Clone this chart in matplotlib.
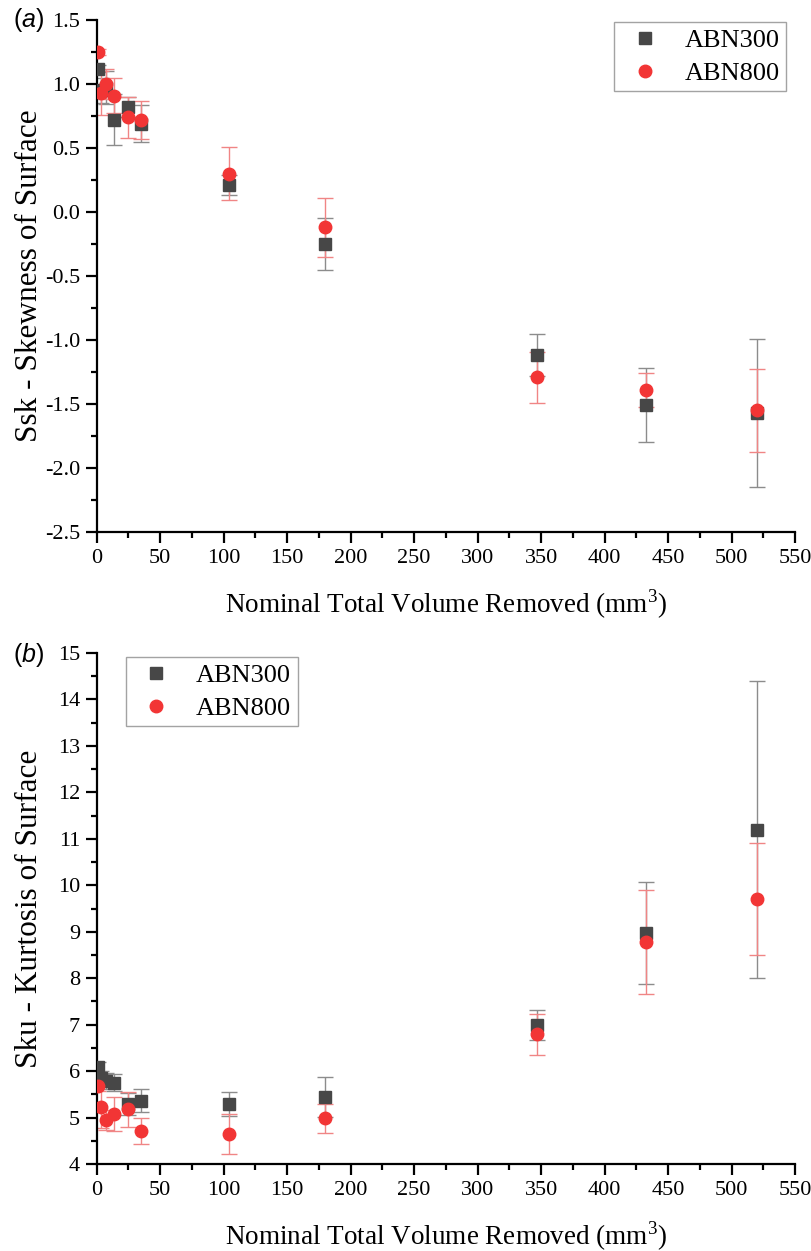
import matplotlib
matplotlib.use("Agg")
import matplotlib.pyplot as plt
from matplotlib.ticker import MultipleLocator, FormatStrFormatter

plt.rcParams['font.family'] = ['Liberation Serif', 'DejaVu Serif']
plt.rcParams['axes.unicode_minus'] = False
plt.rcParams['mathtext.fontset'] = 'custom'
plt.rcParams['mathtext.rm'] = 'Liberation Sans'
plt.rcParams['mathtext.it'] = 'Liberation Sans:italic'

# Data
volume = [0.7, 3.5, 7, 14, 24.5, 34.7, 104, 180, 347, 433, 520]

ssk_300 = [1.12, 0.95, 0.97, 0.72, 0.82, 0.69, 0.21, -0.25, -1.12, -1.51, -1.57]
ssk_300_err = [0.03, 0.10, 0.13, 0.20, 0.08, 0.145, 0.08, 0.20, 0.165, 0.29, 0.575]
ssk_800 = [1.25, 0.93, 1.00, 0.91, 0.74, 0.72, 0.30, -0.12, -1.29, -1.39, -1.55]
ssk_800_err = [0.02, 0.17, 0.12, 0.14, 0.16, 0.15, 0.21, 0.23, 0.20, 0.135, 0.325]

sku_300 = [6.09, 5.85, 5.79, 5.75, 5.29, 5.36, 5.29, 5.44, 6.99, 8.97, 11.2]
sku_300_err = [0.10, 0.15, 0.17, 0.18, 0.23, 0.25, 0.26, 0.43, 0.33, 1.10, 3.2]
sku_800 = [5.68, 5.23, 4.95, 5.08, 5.18, 4.72, 4.65, 4.98, 6.79, 8.77, 9.70]
sku_800_err = [0.10, 0.45, 0.22, 0.36, 0.38, 0.28, 0.43, 0.31, 0.44, 1.12, 1.20]

labels = ['ABN300', 'ABN800']
c300, c800 = '#474747', '#f23535'
e300, e800 = '#8c8c8c', '#f08585'

W, H = 811, 1251
fig = plt.figure(figsize=(W / 100, H / 100), dpi=100)
left = 96.7 / W
width = (795 - 96.7) / W
ax1 = fig.add_axes([left, 1 - 532 / H, width, (532 - 20) / H])
ax2 = fig.add_axes([left, 1 - 1164 / H, width, (1164 - 653) / H])


def draw(ax, y3, e3, y8, e8):
    ax.errorbar(volume, y3, yerr=e3, fmt='none', ecolor=e300, elinewidth=1.0,
                capsize=5.5, capthick=1.0, zorder=2)
    ax.errorbar(volume, y8, yerr=e8, fmt='none', ecolor=e800, elinewidth=1.0,
                capsize=5.5, capthick=1.0, zorder=2)
    ax.plot(volume, y3, 's', color=c300, markersize=8, linestyle='none',
            label=labels[0], zorder=3)
    ax.plot(volume, y8, 'o', color=c800, markersize=9, linestyle='none',
            label=labels[1], zorder=4)
    for s in ['top', 'right']:
        ax.spines[s].set_visible(False)
    for s in ['left', 'bottom']:
        ax.spines[s].set_linewidth(1.6)
    ax.set_xlim(0, 550)
    ax.xaxis.set_major_locator(MultipleLocator(50))
    ax.xaxis.set_minor_locator(MultipleLocator(25))
    ax.tick_params(which='major', direction='out', length=8, width=1.6,
                   labelsize=16, pad=4)
    ax.tick_params(which='minor', direction='out', length=4.5, width=1.6)
    ax.set_xlabel('Nominal Total Volume Removed (mm$^{\\mathregular{3}}$)',
                  fontsize=19.5)
    ax.xaxis.set_label_coords(0.5, -0.108)
    ax.yaxis.set_label_coords(-0.076, 0.5)


def legend(ax, loc, anchor):
    leg = ax.legend(loc=loc, bbox_to_anchor=anchor, fontsize=19,
                    frameon=True, fancybox=False, edgecolor='#8c8c8c',
                    handletextpad=0.6, borderpad=0.25, labelspacing=0.35,
                    handlelength=1.8, borderaxespad=0)
    leg.get_frame().set_linewidth(1.0)
    return leg


draw(ax1, ssk_300, ssk_300_err, ssk_800, ssk_800_err)
ax1.set_ylim(-2.5, 1.5)
ax1.yaxis.set_major_locator(MultipleLocator(0.5))
ax1.yaxis.set_minor_locator(MultipleLocator(0.25))
ax1.yaxis.set_major_formatter(FormatStrFormatter('%.1f'))
ax1.set_ylabel('Ssk - Skewness of Surface', fontsize=22.5)
legend(ax1, 'upper right', ((786 - 96.7) / 698.3, (532 - 22) / 512))

draw(ax2, sku_300, sku_300_err, sku_800, sku_800_err)
ax2.set_ylim(4, 15)
ax2.yaxis.set_major_locator(MultipleLocator(1))
ax2.yaxis.set_minor_locator(MultipleLocator(0.5))
ax2.set_ylabel('Sku - Kurtosis of Surface', fontsize=22.5)
legend(ax2, 'upper left', ((126 - 96.7) / 698.3, (1164 - 657) / 511))

fig.text(13 / W, 1 - 20 / H, '($\\it{a}$)', fontsize=18, va='center', ha='left',
         family='Liberation Sans')
fig.text(13 / W, 1 - 655 / H, '($\\it{b}$)', fontsize=18, va='center', ha='left',
         family='Liberation Sans')

fig.savefig('out.png', dpi=100)
